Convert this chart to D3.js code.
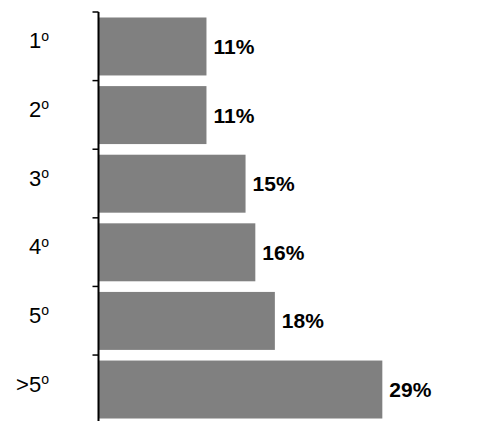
<!DOCTYPE html>
<html>
<head>
<meta charset="utf-8">
<script src="https://cdn.jsdelivr.net/npm/d3@7"></script>
<style>
html,body{margin:0;padding:0;background:#fff;}
svg{display:block;}
</style>
</head>
<body>
<svg id="chart" width="485" height="421"></svg>
<script>
const categories = ["1", "2", "3", "4", "5", ">5"];
const values = [11, 11, 15, 16, 18, 29];
const valueLabels = ["11%", "11%", "15%", "16%", "18%", "29%"];

const svg = d3.select("#chart");
const x0 = 98.5;
const x = d3.scaleLinear().domain([0, 35]).range([x0, x0 + 35 * 9.77]);
const y = d3.scaleBand().domain(categories).range([12, 424]).paddingInner(0.155).paddingOuter(0.08);

const step = y.step();

// bars
svg.selectAll("rect.bar").data(values).enter().append("rect")
  .attr("class", "bar")
  .attr("x", x(0) + 0.5)
  .attr("y", (d, i) => y(categories[i]))
  .attr("width", d => x(d) - x(0))
  .attr("height", y.bandwidth())
  .attr("fill", "#808080");

// value labels
svg.selectAll("text.val").data(values).enter().append("text")
  .attr("class", "val")
  .attr("x", d => x(d) + 7.5)
  .attr("y", (d, i) => y(categories[i]) + y.bandwidth() / 2)
  .attr("dy", "0.36em")
  .attr("font-family", "Liberation Sans, Arial, sans-serif")
  .attr("font-weight", "bold")
  .attr("font-size", 21)
  .attr("fill", "#000")
  .text((d, i) => valueLabels[i]);

// axis line
svg.append("line")
  .attr("x1", x0).attr("x2", x0)
  .attr("y1", 12).attr("y2", 424)
  .attr("stroke", "#000").attr("stroke-width", 2);

// ticks at band boundaries
const boundaries = categories.map((c, i) => 12 + i * step);
svg.selectAll("line.tick").data(boundaries).enter().append("line")
  .attr("class", "tick")
  .attr("x1", x0 - 6).attr("x2", x0)
  .attr("y1", d => d).attr("y2", d => d)
  .attr("stroke", "#000").attr("stroke-width", 1.5);

// category labels
const cat = svg.selectAll("text.cat").data(categories).enter().append("text")
  .attr("class", "cat")
  .attr("x", 49)
  .attr("y", (d) => y(d) + y.bandwidth() / 2)
  .attr("dy", 2)
  .attr("text-anchor", "end")
  .attr("font-family", "Liberation Sans, Arial, sans-serif")
  .attr("font-size", 22)
  .attr("fill", "#000");
cat.append("tspan").text(d => d);
cat.append("tspan").attr("font-size", 14).attr("dy", -7.7).text("o");
</script>
</body>
</html>
